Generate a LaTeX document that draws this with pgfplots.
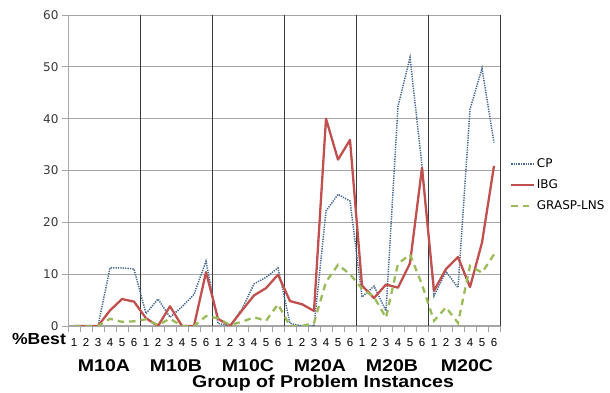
\documentclass[border=0pt]{standalone}
\usepackage{fontspec}
\setmainfont{Liberation Sans}
\newfontfamily\dejavu{DejaVu Sans}
\usepackage{pgfplots}
\usepackage{pgfplotstable}
\pgfplotsset{compat=1.18}
\definecolor{cpc}{HTML}{466A92}
\definecolor{ibgc}{HTML}{C0504D}
\definecolor{grc}{HTML}{9BBB59}
\definecolor{gridc}{HTML}{A6A6A6}
\definecolor{sepc}{HTML}{3A3A3A}

\pgfplotstableread{
x CP IBG GR
1 0 0 0
2 0 0 0
3 0 0 0
4 11.2 3.0 1.4
5 11.2 5.2 0.8
6 11.0 4.7 0.9
7 2.4 1.5 1.3
8 5.2 0 0.2
9 1.7 3.8 1.4
10 3.7 0 0
11 6.1 0 0
12 12.5 10.4 1.9
13 0.5 1.4 1.5
14 0 0 0.2
15 3.3 3.0 0.8
16 8.1 5.9 1.7
17 9.4 7.3 1.0
18 11.2 9.9 4.2
19 0.5 4.8 0
20 0 4.2 0
21 0 2.9 0.6
22 22.2 40.0 8.5
23 25.4 32.1 11.8
24 24.1 35.9 10.0
25 5.6 7.8 7.2
26 7.7 5.4 5.6
27 2.9 8.0 1.6
28 42.4 7.4 12.0
29 51.8 12.1 13.8
30 30.9 30.5 8.0
31 5.8 6.8 1.0
32 10.5 11.0 3.6
33 7.4 13.3 0.6
34 41.8 7.5 11.6
35 49.7 16.1 10.3
36 35.4 30.9 13.8
}\datatable

\begin{document}
\begin{tikzpicture}[x=1pt,y=1pt]
\useasboundingbox (0,0) rectangle (610,393);
\begin{axis}[
  at={(68pt,67pt)}, anchor=south west,
  scale only axis, width=432pt, height=311pt,
  xmin=0.5, xmax=36.5, ymin=0, ymax=60,
  axis lines=left, axis line style={-, draw=gridc, line width=1pt},
  /pgf/number format/assume math mode=true,
  ytick={0,10,...,60},
  ymajorgrids, major grid style={gridc, line width=0.9pt},
  yticklabel style={font=\dejavu\fontsize{12}{12}\selectfont, text=black!78},
  xtick={1,...,36},
  xticklabels={1,2,3,4,5,6,1,2,3,4,5,6,1,2,3,4,5,6,1,2,3,4,5,6,1,2,3,4,5,6,1,2,3,4,5,6},
  xticklabel style={font=\fontsize{11.5}{11.5}\selectfont, text=black, yshift=-3pt},
  major x tick style={draw=none},
  minor xtick={0.5,1.5,2.5,3.5,4.5,5.5,6.5,7.5,8.5,9.5,10.5,11.5,12.5,13.5,14.5,15.5,16.5,17.5,18.5,19.5,20.5,21.5,22.5,23.5,24.5,25.5,26.5,27.5,28.5,29.5,30.5,31.5,32.5,33.5,34.5,35.5,36.5},
  tick align=outside,
  tick style={draw=gridc, line width=0.8pt},
  major tick length=6pt, minor tick length=6pt,
  extra x ticks={6.5,12.5,18.5,24.5,30.5,36.5},
  extra x tick labels={},
  extra x tick style={xmajorgrids=true, major grid style={sepc, line width=1pt}, major x tick style={draw=none}},
  legend style={at={(1.023,0.453)}, anchor=west, draw=none, fill=none,
    font=\dejavu\fontsize{12}{14}\selectfont, row sep=7.5pt, inner sep=0pt,
    nodes={inner sep=1.5pt, text=black}},
  legend cell align=left,
  legend image code/.code={\draw[#1] (0pt,0pt) -- (23pt,0pt);},
]
\addplot[cpc, line width=1.5pt, dash pattern=on 1.3pt off 1.1pt] table[x=x, y=CP] {\datatable};
\addlegendentry{CP}
\addplot[ibgc, line width=2.3pt, line join=round] table[x=x, y=IBG] {\datatable};
\addlegendentry{IBG}
\addplot[grc, line width=2.3pt, dash pattern=on 6.5pt off 5pt] table[x=x, y=GR] {\datatable};
\addlegendentry{GRASP-LNS}
\end{axis}
\node[font=\bfseries\fontsize{16}{16}\selectfont] at (39,54) {\scalebox{1.1}[1]{\%Best}};
\foreach \xx/\lab in {104/M10A,176/M10B,248/M10C,320/M20A,392/M20B,467/M20C}{
  \node[font=\bfseries\fontsize{17}{17}\selectfont] at (\xx,27.5) {\scalebox{1.15}[1]{\lab}};
}
\node[font=\bfseries\fontsize{17}{17}\selectfont] at (323,9.5) {\scalebox{1.15}[1]{Group of Problem Instances}};
\end{tikzpicture}
\end{document}
